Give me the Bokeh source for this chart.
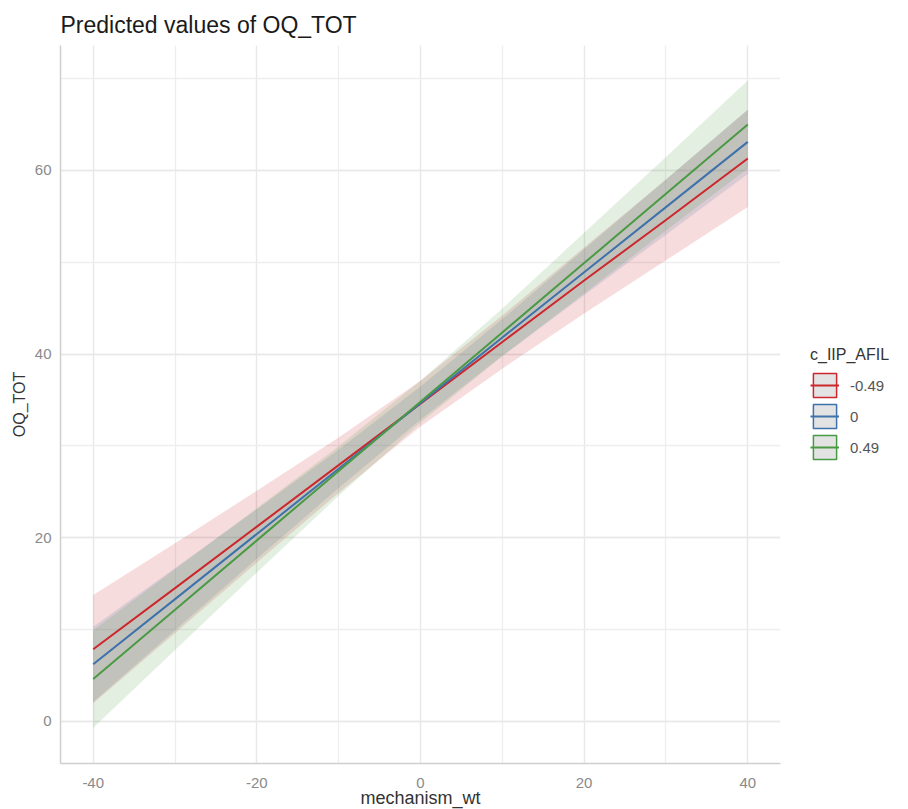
from bokeh.plotting import figure
from bokeh.models import Range1d, SingleIntervalTicker, Legend, LegendItem, ColumnDataSource, CustomJSTickFormatter
from bokeh.embed import file_html
from bokeh.resources import INLINE

# ---- data ----
x_vals = [-40, -30, -20, -10, 0, 10, 20, 30, 40]
groups = ["-0.49", "0", "0.49"]
colors = ["#CC272C", "#3F72AB", "#4A9A44"]

fit_m049 = [7.85, 14.5, 21.2, 27.9, 34.6, 41.3, 48.0, 54.6, 61.3]
low_m049 = [1.95, 9.6, 17.3, 24.9, 32.1, 38.4, 44.4, 50.2, 56.0]
up_m049 = [13.75, 19.4, 25.1, 30.9, 37.1, 44.2, 51.6, 59.0, 66.6]

fit_0 = [6.2, 13.3, 20.4, 27.5, 34.65, 41.8, 48.9, 56.0, 63.1]
low_0 = [2.1, 9.9, 17.7, 25.4, 32.85, 39.8, 46.4, 53.0, 59.6]
up_0 = [10.3, 16.7, 23.1, 29.6, 36.45, 43.8, 51.4, 59.0, 66.6]

fit_p049 = [4.6, 12.15, 19.7, 27.25, 34.8, 42.35, 49.9, 57.45, 65.0]
low_p049 = [-0.7, 7.75, 16.2, 24.55, 32.5, 39.75, 46.6, 53.45, 60.2]
up_p049 = [9.9, 16.55, 23.2, 29.95, 37.1, 44.95, 53.2, 61.45, 69.8]

fits = [fit_m049, fit_0, fit_p049]
lows = [low_m049, low_0, low_p049]
ups = [up_m049, up_0, up_p049]

FONT = "Liberation Sans"

p = figure(
    output_backend="svg", toolbar_location=None,
    frame_width=720, frame_height=718,
    min_border_left=60, min_border_right=110, min_border_top=45, min_border_bottom=46,
    x_range=Range1d(-44, 44), y_range=Range1d(-4.6, 73.6),
    title="Predicted values of OQ_TOT",
    background_fill_color="white", border_fill_color="white",
)
p.outline_line_color = None

p.title.text_font = FONT
p.title.text_font_size = "23px"
p.title.text_font_style = "normal"
p.title.text_color = "#1a1a1a"
p.title.offset = 0
p.title.standoff = 16

p.xaxis.ticker = SingleIntervalTicker(interval=20, num_minor_ticks=2)
p.yaxis.ticker = SingleIntervalTicker(interval=20, num_minor_ticks=2)
p.xgrid.ticker = p.xaxis.ticker
p.ygrid.ticker = p.yaxis.ticker

fmt = CustomJSTickFormatter(code="return tick.toFixed(0);")
for ax in (p.xaxis, p.yaxis):
    ax.formatter = fmt
    ax.axis_line_color = "#cfcfcf"
    ax.axis_line_width = 1.5
    ax.major_tick_line_color = None
    ax.minor_tick_line_color = None
    ax.major_label_text_font = FONT
    ax.major_label_text_font_size = "15px"
    ax.major_label_text_color = "#8a8a8a"
    ax.axis_label_text_font = FONT
    ax.axis_label_text_font_style = "normal"
    ax.axis_label_text_color = "#333333"

p.yaxis.major_tick_out = 0
p.yaxis.minor_tick_out = 0
p.xaxis.axis_label = "mechanism_wt"
p.yaxis.axis_label = "OQ_TOT"
p.xaxis.axis_label_text_font_size = "18px"
p.yaxis.axis_label_text_font_size = "16px"
p.xaxis.major_label_standoff = 8
p.yaxis.major_label_standoff = 9
p.xaxis.axis_label_standoff = -3
p.yaxis.axis_label_standoff = 4

for g in (p.xgrid, p.ygrid):
    g.grid_line_color = "#e8e8e8"
    g.grid_line_width = 1.3
    g.minor_grid_line_color = "#eeeeee"
    g.minor_grid_line_width = 1.3

# ribbons
for f, lo, up, c in zip(fits, lows, ups, colors):
    src = ColumnDataSource(dict(x=x_vals, lo=lo, up=up))
    p.varea(x="x", y1="lo", y2="up", source=src, fill_color=c, fill_alpha=0.16)

# lines
line_rs = []
for f, c in zip(fits, colors):
    src = ColumnDataSource(dict(x=x_vals, y=f))
    r = p.line(x="x", y="y", source=src, line_color=c, line_width=2)
    line_rs.append(r)

# legend keys: key-only boxes (no drawable coordinates) + lines
nan = float("nan")
items = []
for gname, c, lr in zip(groups, colors, line_rs):
    key = p.patch(x=[nan], y=[nan], fill_color="#e3e3e3", line_color=c, line_width=1.5)
    items.append(LegendItem(label=gname, renderers=[key, lr]))

legend = Legend(items=items, location="center_left")
legend.title = "c_IIP_AFIL"
legend.title_text_font = FONT
legend.title_text_font_size = "16px"
legend.title_text_font_style = "normal"
legend.title_text_color = "#333333"
legend.title_standoff = 6
legend.label_text_font = FONT
legend.label_text_font_size = "15px"
legend.label_text_color = "#555555"
legend.glyph_width = 29
legend.glyph_height = 30
legend.label_height = 30
legend.label_standoff = 11
legend.spacing = 1
legend.padding = 0
legend.margin = 30
legend.border_line_color = None
legend.background_fill_alpha = 0
p.add_layout(legend, "right")

open("out.html", "w").write(file_html(p, INLINE))
